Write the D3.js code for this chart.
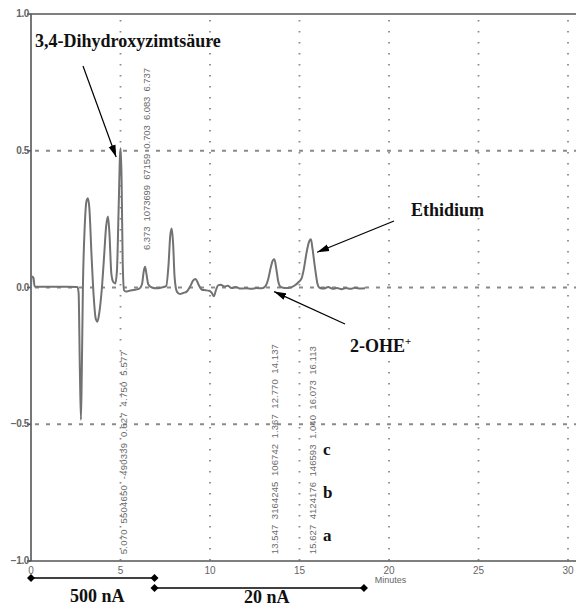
<!DOCTYPE html>
<html>
<head>
<meta charset="utf-8">
<script src="https://cdn.jsdelivr.net/npm/d3@7"></script>
<style>
  html, body { margin: 0; padding: 0; background: #fff; }
  svg { display: block; }
</style>
</head>
<body>
<svg id="chart" width="576" height="607"></svg>
<script>
// Chromatogram trace: retention time (min) and detector signal
const times = [
  0.00, 0.03, 0.14, 0.20, 0.60, 1.20, 2.00, 2.60, 2.66, 2.73, 2.79, 2.84, 2.90,
  3.00, 3.10, 3.18, 3.26, 3.38, 3.50, 3.62, 3.71, 3.82, 3.95, 4.08, 4.20, 4.30,
  4.38, 4.49, 4.60, 4.71, 4.80, 4.90, 4.97, 5.01, 5.06, 5.12, 5.20, 5.30, 5.50,
  5.80, 6.05, 6.20, 6.30, 6.37, 6.45, 6.55, 6.75, 7.00, 7.30, 7.55, 7.68, 7.78,
  7.86, 7.94, 8.02, 8.15, 8.32, 8.50, 8.70, 8.90, 9.05, 9.20, 9.35, 9.55, 9.75,
  9.95, 10.10, 10.22, 10.33, 10.45, 10.60, 10.80, 11.00, 11.20, 11.45, 11.70,
  12.00, 12.30, 12.60, 12.90, 13.10, 13.25, 13.40, 13.52, 13.60, 13.70, 13.82,
  13.95, 14.20, 14.50, 14.75, 14.95, 15.12, 15.25, 15.40, 15.55, 15.64, 15.73,
  15.87, 16.00, 16.10, 16.35, 16.60, 16.85, 17.10, 17.35, 17.60, 17.85, 18.10,
  18.40, 18.66
];
const signal = [
  0.000, 0.040, 0.036, 0.004, 0.003, 0.003, 0.003, 0.002, -0.020, -0.300, -0.484, -0.300, 0.000,
  0.220, 0.315, 0.326, 0.290, 0.120, -0.030, -0.115, -0.125, -0.090, -0.010, 0.110, 0.225, 0.260,
  0.200, 0.050, 0.020, 0.015, 0.060, 0.300, 0.480, 0.509, 0.400, 0.100, -0.010, -0.015, -0.012,
  -0.008, -0.004, 0.012, 0.060, 0.076, 0.050, 0.012, 0.000, -0.003, 0.000, 0.005, 0.080, 0.190,
  0.216, 0.160, 0.040, -0.015, -0.024, -0.020, -0.015, 0.005, 0.025, 0.031, 0.012, -0.008, -0.010,
  -0.012, -0.020, -0.032, -0.010, 0.008, 0.010, 0.004, 0.006, -0.002, 0.002, -0.004,
  -0.003, -0.005, -0.002, -0.003, 0.005, 0.030, 0.075, 0.100, 0.103, 0.070, 0.020,
  0.002, -0.002, 0.000, 0.008, 0.020, 0.034, 0.070, 0.130, 0.170, 0.176, 0.140,
  0.070, 0.015, 0.000, -0.004, 0.002, -0.005, -0.002, -0.006, -0.002, -0.005, -0.001,
  -0.004, -0.003
];

// Axis ticks
const xTicks = [0, 5, 10, 15, 20, 25, 30];
const yTicks = [1.0, 0.5, 0.0, -0.5, -1.0];
const yGrid = [0.5, 0.0, -0.5];
const xGrid = [5, 10, 15, 20, 25, 30];

// Integration report printed beside the peaks
const peakRT     = ["5.070", "6.373", "13.547", "15.627"];
const peakArea   = ["5504650", "1073699", "3164245", "4124176"];
const peakHeight = ["-490339", "67159", "106742", "146593"];
const peakWidth  = ["0.627", "0.703", "1.367", "1.040"];
const peakStart  = ["4.750", "6.083", "12.770", "16.073"];
const peakEnd    = ["5.577", "6.737", "14.137", "16.113"];
const peakLabelBase = [-0.975, 0.137, -0.975, -0.975];

// Sensitivity ranges along the time axis
const rangeLabels = ["500 nA", "20 nA"];
const rangeStart = [0, 6.9];
const rangeEnd = [6.9, 18.6];

// Traces marked by name
const compoundNames = ["3,4-Dihydroxyzimtsäure", "Ethidium", "2-OHE"];
const compoundTimes = [4.98, 15.65, 13.58];
const compoundValues = [0.47, 0.125, -0.015];
const runLetters = ["c", "b", "a"];

const svg = d3.select("#chart");
const x = d3.scaleLinear().domain([0, 30]).range([31, 568]);
const y = d3.scaleLinear().domain([-1, 1]).range([561, 14]);

const gridColor = "#8a8a8a";
const axisColor = "#555";

// Grid
svg.append("g").selectAll("line").data(xGrid).join("line")
  .attr("x1", d => x(d)).attr("x2", d => x(d))
  .attr("y1", y(1) + 6).attr("y2", y(-1))
  .attr("stroke", gridColor).attr("stroke-width", 1.8)
  .attr("stroke-dasharray", "1.6,9.4");

svg.append("g").selectAll("line").data(yGrid).join("line")
  .attr("x1", x(0) + 4).attr("x2", 576)
  .attr("y1", d => y(d)).attr("y2", d => y(d))
  .attr("stroke", gridColor).attr("stroke-width", 1.8)
  .attr("stroke-dasharray", "4,7");

// Frame
const frame = svg.append("g").attr("stroke", axisColor).attr("stroke-width", 1.6);
frame.append("line").attr("x1", x(0)).attr("x2", x(0)).attr("y1", y(1)).attr("y2", y(-1));
frame.append("line").attr("x1", x(0)).attr("x2", 576).attr("y1", y(1)).attr("y2", y(1));
frame.append("line").attr("x1", x(0) - 4).attr("x2", 576).attr("y1", y(-1)).attr("y2", y(-1));
frame.selectAll(".yt").data(yTicks).join("line")
  .attr("x1", x(0) - 4).attr("x2", x(0))
  .attr("y1", d => y(d)).attr("y2", d => y(d));

// Tick labels
const fmt = d3.format(".1f");
svg.append("g").selectAll("text").data(yTicks).join("text")
  .attr("x", x(0) - 2).attr("y", d => y(d) + 3)
  .attr("text-anchor", "end")
  .attr("font-family", "Liberation Sans, Arial, sans-serif")
  .attr("font-size", 10).attr("font-weight", "bold").attr("fill", "#666")
  .attr("letter-spacing", -0.4)
  .text(d => fmt(d));

svg.append("g").selectAll("text").data(xTicks).join("text")
  .attr("x", d => x(d)).attr("y", y(-1) + 13)
  .attr("text-anchor", "middle")
  .attr("font-family", "Liberation Sans, Arial, sans-serif")
  .attr("font-size", 10).attr("fill", "#666")
  .text(d => d);

svg.append("text")
  .attr("x", x(19.2)).attr("y", y(-1) + 22)
  .attr("font-family", "Liberation Sans, Arial, sans-serif")
  .attr("font-size", 9).attr("fill", "#666")
  .text("Minutes");

// Chromatogram
const line = d3.line()
  .x((d, i) => x(times[i]))
  .y(d => y(d))
  .curve(d3.curveMonotoneX);
svg.append("path")
  .attr("d", line(signal))
  .attr("fill", "none")
  .attr("stroke", "#727272")
  .attr("stroke-width", 2)
  .attr("stroke-linejoin", "round");

// Integration report columns (vertical text)
const report = peakRT.map((rt, i) =>
  [rt, peakArea[i], peakHeight[i], peakWidth[i], peakStart[i], peakEnd[i]].join("  "));
const reportLen = [203, 182, 210, 208];
svg.append("g").selectAll("text").data(report).join("text")
  .attr("transform", (d, i) => `translate(${x(+peakRT[i]) + 5},${y(peakLabelBase[i])}) rotate(-90)`)
  .attr("font-family", "Liberation Sans, Arial, sans-serif")
  .attr("font-size", 9.5).attr("fill", "#6a6a6a")
  .attr("textLength", (d, i) => reportLen[i])
  .attr("lengthAdjust", "spacing")
  .style("white-space", "pre")
  .text(d => d);

// Arrow markers
const defs = svg.append("defs");
defs.append("marker")
  .attr("id", "head").attr("viewBox", "0 0 10 6")
  .attr("refX", 10).attr("refY", 3)
  .attr("markerUnits", "userSpaceOnUse")
  .attr("markerWidth", 12).attr("markerHeight", 8)
  .attr("orient", "auto")
  .append("path").attr("d", "M0,0 L10,3 L0,6 Z").attr("fill", "#000");

const serif = "Liberation Serif, Times New Roman, serif";
const arrows = [
  { from: [83, 66], to: [x(compoundTimes[0]) - 4, y(compoundValues[0]) - 2] },
  { from: [394, 221], to: [x(compoundTimes[1]) + 6, y(compoundValues[1]) - 1] },
  { from: [345, 324], to: [x(compoundTimes[2]), y(compoundValues[2])] }
];
svg.append("g").selectAll("line").data(arrows).join("line")
  .attr("x1", d => d.from[0]).attr("y1", d => d.from[1])
  .attr("x2", d => d.to[0]).attr("y2", d => d.to[1])
  .attr("stroke", "#000").attr("stroke-width", 1.2)
  .attr("marker-end", "url(#head)");

// Compound names
svg.append("text").attr("x", 35).attr("y", 47)
  .attr("font-family", serif).attr("font-size", 18).attr("font-weight", "bold")
  .attr("fill", "#111").text(compoundNames[0]);
svg.append("text").attr("x", 411).attr("y", 216)
  .attr("font-family", serif).attr("font-size", 18).attr("font-weight", "bold")
  .attr("fill", "#111").text(compoundNames[1]);
const ohe = svg.append("text").attr("x", 350).attr("y", 352)
  .attr("font-family", serif).attr("font-size", 18).attr("font-weight", "bold")
  .attr("fill", "#111");
ohe.append("tspan").text(compoundNames[2]);
ohe.append("tspan").attr("dy", -7).attr("font-size", 11).text("+");

// Run letters
svg.append("g").selectAll("text").data(runLetters).join("text")
  .attr("x", 323).attr("y", (d, i) => 455 + i * 43)
  .attr("font-family", serif).attr("font-size", 17).attr("font-weight", "bold")
  .attr("fill", "#111").text(d => d);

// Sensitivity range bars
const rangeY = [578, 588];
const ranges = svg.append("g");
rangeLabels.forEach((lab, i) => {
  const x0 = x(rangeStart[i]), x1 = x(rangeEnd[i]), yy = rangeY[i];
  ranges.append("line").attr("x1", x0).attr("x2", x1).attr("y1", yy).attr("y2", yy)
    .attr("stroke", "#000").attr("stroke-width", 1.5);
  [x0, x1].forEach(px => {
    ranges.append("path")
      .attr("d", `M${px - 4},${yy} L${px},${yy - 4} L${px + 4},${yy} L${px},${yy + 4} Z`)
      .attr("fill", "#000");
  });
});
svg.append("text").attr("x", 70).attr("y", 602)
  .attr("font-family", serif).attr("font-size", 18).attr("font-weight", "bold")
  .attr("fill", "#111").text(rangeLabels[0]);
svg.append("text").attr("x", 244).attr("y", 603)
  .attr("font-family", serif).attr("font-size", 18).attr("font-weight", "bold")
  .attr("fill", "#111").text(rangeLabels[1]);
</script>
</body>
</html>
